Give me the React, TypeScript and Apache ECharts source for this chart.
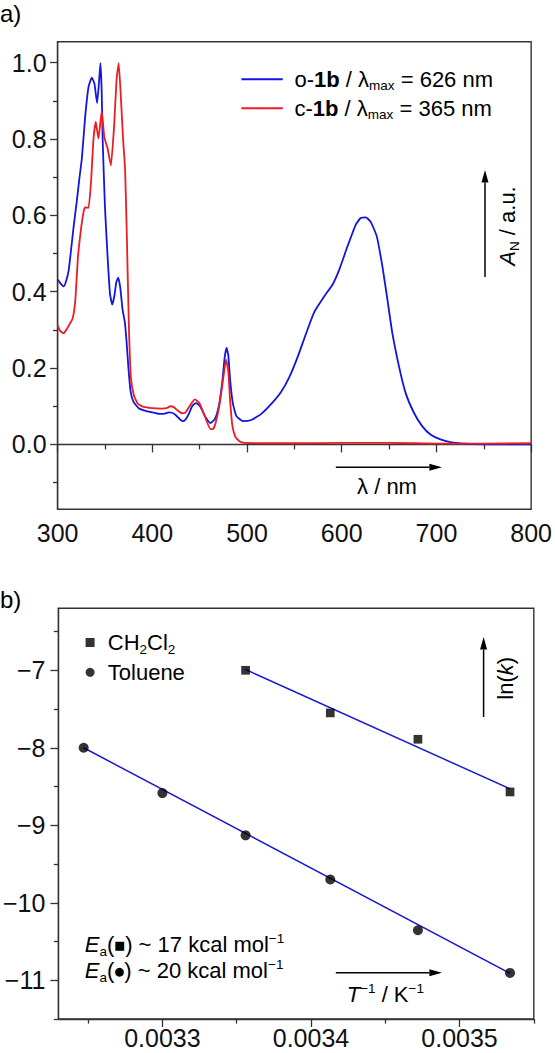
import React, { useEffect, useRef } from "react";
import * as echarts from "echarts";

const FONT = "'Liberation Sans', Arial, Helvetica, 'DejaVu Sans', sans-serif";
const BLUE = "#1414e0";
const RED = "#ec1c24";
const FIT_BLUE = "#1a1ad0";
const AXIS = "#333333";

// ---------- Panel a: normalised absorption spectra ----------
const spectrumOpen: [number, number][] = [
  [300, 0.432], [303, 0.422], [306.5, 0.414], [309, 0.428], [311.7, 0.456], [314, 0.505],
  [316.9, 0.57], [320.4, 0.64], [322.9, 0.695], [325.6, 0.749], [329.1, 0.858], [332.6, 0.936],
  [336.1, 0.961], [338.9, 0.945], [341.7, 0.894], [343.6, 0.945], [345.2, 0.999], [346.5, 0.93],
  [347.6, 0.797], [350, 0.622], [352.8, 0.491], [355.3, 0.395], [357.7, 0.366], [360, 0.39],
  [362, 0.425], [364, 0.437], [366.2, 0.41], [368.5, 0.355], [371, 0.32], [372.8, 0.27],
  [374.8, 0.2], [377, 0.14], [380, 0.112], [386, 0.094], [393, 0.088], [400, 0.084],
  [407, 0.08], [412, 0.08], [417.5, 0.084], [421, 0.083], [424.6, 0.077], [429, 0.066],
  [432, 0.061], [435, 0.065], [438.6, 0.08], [442, 0.1], [445.6, 0.108], [448, 0.106],
  [450.9, 0.098], [456.1, 0.072], [461.4, 0.056], [466, 0.066], [470.2, 0.1], [473.7, 0.16],
  [476.5, 0.23], [478.5, 0.253], [480.3, 0.232], [482.3, 0.165], [485, 0.108], [488.8, 0.074],
  [495.8, 0.061], [504.6, 0.064], [515.1, 0.08], [525.6, 0.106], [536.1, 0.138], [544.8, 0.177],
  [553.6, 0.23], [562.3, 0.29], [571.1, 0.347], [581.6, 0.388], [590.4, 0.419], [597.4, 0.458],
  [606.1, 0.519], [614.9, 0.576], [620, 0.593], [625.4, 0.595], [630.6, 0.583], [637, 0.545],
  [642.9, 0.467], [648.2, 0.38], [653.4, 0.292], [660.4, 0.205], [667.4, 0.135], [676.2, 0.083],
  [684.9, 0.048], [693.7, 0.026], [704.2, 0.013], [714.7, 0.006], [730, 0.002], [750, 0.0],
  [800, 0.0],
];

const spectrumClosed: [number, number][] = [
  [300, 0.312], [302.5, 0.298], [306.5, 0.291], [309, 0.3], [311.5, 0.31], [315.9, 0.33],
  [318.7, 0.378], [321.5, 0.491], [325, 0.57], [327.5, 0.61], [329, 0.621], [332.6, 0.62],
  [335.4, 0.692], [337.8, 0.797], [340.3, 0.845], [343.1, 0.801], [346.6, 0.873], [349.3, 0.805],
  [352.8, 0.775], [356.3, 0.731], [359.8, 0.84], [362.2, 0.954], [364.5, 0.999], [366.8, 0.91],
  [369.2, 0.797], [371.3, 0.718], [373.2, 0.535], [375.2, 0.317], [377.3, 0.177], [380.5, 0.129],
  [384.5, 0.107], [390, 0.099], [400, 0.095], [410, 0.094], [415, 0.095], [419.3, 0.1],
  [423, 0.097], [426.3, 0.09], [431, 0.082], [434, 0.082], [439.3, 0.1], [444.9, 0.118],
  [449.8, 0.108], [455.4, 0.074], [461.4, 0.04], [464, 0.04], [466.7, 0.055], [470.9, 0.103],
  [474.7, 0.17], [477.9, 0.222], [480.3, 0.19], [482, 0.12], [484.5, 0.05], [487.7, 0.02],
  [492, 0.008], [497.5, 0.004], [550, 0.003], [600, 0.004], [650, 0.004], [700, 0.002],
  [750, 0.002], [800, 0.003],
];

const absTicks = [0, 0.2, 0.4, 0.6, 0.8, 1.0];
const absMinorTicks = [-0.1, 0.1, 0.3, 0.5, 0.7, 0.9];

// ---------- Panel b: Arrhenius plot ----------
const invTempCH2Cl2 = [0.003356, 0.003413, 0.003472, 0.003534];
const lnkCH2Cl2 = [-7.0, -7.55, -7.89, -8.57];
const invTempToluene = [0.003247, 0.0033, 0.003356, 0.003413, 0.003472, 0.003534];
const lnkToluene = [-8.0, -8.585, -9.13, -9.7, -10.355, -10.905];
const fitCH2Cl2X = [0.003356, 0.003534];
const fitCH2Cl2Y = [-6.99, -8.53];
const fitTolueneX = [0.003247, 0.003534];
const fitTolueneY = [-8.0, -10.91];
const invTempTicks = [0.0033, 0.0034, 0.0035];
const invTempMinorTicks = [0.00325, 0.00335, 0.00345, 0.00355];
const lnkTicks = [-11, -10, -9, -8, -7];
const lnkMinorTicks = [-11.5, -10.5, -9.5, -8.5, -7.5, -6.5];

const zip = (xs: number[], ys: number[]) => xs.map((x, i) => [x, ys[i]]);

const FS = 22;
const LH = 27;
const rich: any = {
  n: { fontSize: FS, lineHeight: LH, color: "#000", fontFamily: FONT },
  i: { fontSize: FS, lineHeight: LH, color: "#000", fontFamily: FONT, fontStyle: "italic" },
  b: { fontSize: FS, lineHeight: LH, color: "#000", fontFamily: FONT, fontWeight: "bold" },
  sub: { fontSize: 13.5, lineHeight: 13.5, color: "#000", fontFamily: FONT, verticalAlign: "bottom" },
  sup: { fontSize: 13.5, lineHeight: 16.5, color: "#000", fontFamily: FONT, verticalAlign: "top" },
  sym: { fontSize: 11.5, lineHeight: LH, color: "#000", fontFamily: "'DejaVu Sans', sans-serif" },
  g: { width: 6.7, lineHeight: LH },
  h: { width: 8.2, lineHeight: LH },
};

const legendLabels: Record<string, string> = {
  "o-1b": "{g| }{n|o-}{b|1b}{n| / λ}{sub|max}{n| = 626 nm}",
  "c-1b": "{g| }{n|c-}{b|1b}{n| / λ}{sub|max}{n| = 365 nm}",
  CH2Cl2: "{h| }{n|CH}{sub|2}{n|Cl}{sub|2}",
  Toluene: "{h| }{n|Toluene}",
};

const tickLine = { color: AXIS, width: 1.3 };

function arrow(x1: number, y1: number, x2: number, y2: number): any[] {
  const len = Math.hypot(x2 - x1, y2 - y1);
  const ux = (x2 - x1) / len;
  const uy = (y2 - y1) / len;
  const hl = 12.5;
  const hw = 3.5;
  const bx = x2 - ux * hl;
  const by = y2 - uy * hl;
  return [
    { type: "line", shape: { x1, y1, x2: bx, y2: by }, style: { stroke: "#000", lineWidth: 1.5 } },
    {
      type: "polygon",
      shape: { points: [[x2, y2], [bx - uy * hw, by + ux * hw], [bx + uy * hw, by - ux * hw]] },
      style: { fill: "#000" },
    },
  ];
}

function textEl(x: number, y: number, text: string, extra: any = {}): any {
  return {
    type: "text",
    x,
    y,
    ...extra,
    style: {
      text,
      rich,
      fill: "#000",
      fontSize: FS,
      fontFamily: FONT,
      align: extra.align || "left",
      verticalAlign: "middle",
    },
  };
}

export default function App() {
  const ref = useRef<HTMLDivElement>(null);

  useEffect(() => {
    document.body.style.margin = "0";
    if (!ref.current) return;
    const chart = echarts.init(ref.current, undefined, { renderer: "svg" });

    const labelStyle = { fontSize: 25, color: "#111", fontFamily: FONT };
    const GL = 57.6;
    const GW = 476.2;

    const option: any = {
      animation: false,
      textStyle: { fontFamily: FONT },
      grid: [
        { left: GL, top: 41.7, width: GW, height: 467.6, show: true, borderColor: AXIS, borderWidth: 1.4 },
        { left: GL, top: 608.3, width: GW, height: 410.7, show: true, borderColor: AXIS, borderWidth: 1.4 },
      ],
      xAxis: [
        {
          gridIndex: 0,
          type: "value",
          position: "bottom",
          min: 300,
          max: 800,
          interval: 100,
          axisLine: { show: true, lineStyle: tickLine },
          axisTick: { show: true, length: 8, lineStyle: tickLine },
          minorTick: { show: true, splitNumber: 2, length: 5, lineStyle: tickLine },
          axisLabel: { ...labelStyle, margin: 11 },
          splitLine: { show: false },
          minorSplitLine: { show: false },
        },
        {
          gridIndex: 1,
          type: "value",
          position: "bottom",
          min: 0.00323,
          max: 0.00355,
          axisLine: { show: true, lineStyle: tickLine },
          axisTick: { show: true, length: 8, lineStyle: tickLine, customValues: invTempTicks },
          axisLabel: {
            ...labelStyle,
            margin: 6,
            customValues: invTempTicks,
            formatter: (v: number) => v.toFixed(4),
          },
          splitLine: { show: false },
        },
        {
          gridIndex: 1,
          type: "value",
          position: "bottom",
          offset: 0,
          min: 0.00323,
          max: 0.00355,
          axisLine: { show: false },
          axisTick: { show: true, length: 4.6, lineStyle: tickLine, customValues: invTempMinorTicks },
          axisLabel: { show: false },
          splitLine: { show: false },
        },
      ],
      yAxis: [
        {
          gridIndex: 0,
          type: "value",
          position: "left",
          min: -0.17,
          max: 1.055,
          axisLine: { show: true, lineStyle: tickLine },
          axisTick: { show: true, length: 7.5, lineStyle: tickLine, customValues: absTicks },
          axisLabel: {
            ...labelStyle,
            margin: 11,
            customValues: absTicks,
            formatter: (v: number) => v.toFixed(1),
          },
          splitLine: { show: false },
        },
        {
          gridIndex: 0,
          type: "value",
          position: "left",
          offset: 0,
          min: -0.17,
          max: 1.055,
          axisLine: { show: false },
          axisTick: { show: true, length: 4.6, lineStyle: tickLine, customValues: absMinorTicks },
          axisLabel: { show: false },
          splitLine: { show: false },
        },
        {
          gridIndex: 1,
          type: "value",
          position: "left",
          min: -11.5,
          max: -6.2,
          axisLine: { show: true, lineStyle: tickLine },
          axisTick: { show: true, length: 8, lineStyle: tickLine, customValues: lnkTicks },
          axisLabel: {
            ...labelStyle,
            margin: 13,
            customValues: lnkTicks,
            formatter: (v: number) => String(v).replace("-", "\u2212"),
          },
          splitLine: { show: false },
        },
        {
          gridIndex: 1,
          type: "value",
          position: "left",
          offset: 0,
          min: -11.5,
          max: -6.2,
          axisLine: { show: false },
          axisTick: { show: true, length: 4.6, lineStyle: tickLine, customValues: lnkMinorTicks },
          axisLabel: { show: false },
          splitLine: { show: false },
        },
      ],
      legend: [
        {
          data: ["o-1b", "c-1b"],
          orient: "vertical",
          left: 241.4,
          top: 68.2,
          padding: 0,
          icon: "rect",
          itemWidth: 41.4,
          itemHeight: 2,
          itemGap: 4.6,
          formatter: (name: string) => legendLabels[name],
          textStyle: { fontSize: FS, color: "#000", fontFamily: FONT, rich },
        },
        {
          data: [
            { name: "CH2Cl2", icon: "rect" },
            { name: "Toluene", icon: "circle" },
          ],
          orient: "vertical",
          left: 85.6,
          top: 631.5,
          padding: 0,
          itemWidth: 9,
          itemHeight: 9,
          itemGap: 5.3,
          formatter: (name: string) => legendLabels[name],
          textStyle: { fontSize: FS, color: "#000", fontFamily: FONT, rich },
        },
      ],
      series: [
        {
          name: "o-1b",
          type: "line",
          xAxisIndex: 0,
          yAxisIndex: 0,
          data: spectrumOpen,
          symbol: "none",
          showSymbol: false,
          smooth: 0.15,
          lineStyle: { color: BLUE, width: 1.8 },
          itemStyle: { color: BLUE },
        },
        {
          name: "c-1b",
          type: "line",
          xAxisIndex: 0,
          yAxisIndex: 0,
          data: spectrumClosed,
          symbol: "none",
          showSymbol: false,
          smooth: 0.15,
          lineStyle: { color: RED, width: 1.8 },
          itemStyle: { color: RED },
        },
        {
          name: "fit CH2Cl2",
          type: "line",
          xAxisIndex: 1,
          yAxisIndex: 2,
          data: zip(fitCH2Cl2X, fitCH2Cl2Y),
          symbol: "none",
          lineStyle: { color: FIT_BLUE, width: 1.5 },
          z: 2,
        },
        {
          name: "fit Toluene",
          type: "line",
          xAxisIndex: 1,
          yAxisIndex: 2,
          data: zip(fitTolueneX, fitTolueneY),
          symbol: "none",
          lineStyle: { color: FIT_BLUE, width: 1.5 },
          z: 2,
        },
        {
          name: "CH2Cl2",
          type: "scatter",
          xAxisIndex: 1,
          yAxisIndex: 2,
          data: zip(invTempCH2Cl2, lnkCH2Cl2),
          symbol: "rect",
          symbolSize: 8.7,
          itemStyle: { color: "#000" },
          z: 5,
        },
        {
          name: "Toluene",
          type: "scatter",
          xAxisIndex: 1,
          yAxisIndex: 2,
          data: zip(invTempToluene, lnkToluene),
          symbol: "circle",
          symbolSize: 10,
          itemStyle: { color: "#000" },
          z: 5,
        },
      ],
      graphic: {
        elements: [
          { type: "text", x: 0, y: 13.5, style: { text: "a)", fontSize: 24, fontFamily: FONT, fill: "#000", align: "left", verticalAlign: "middle" } },
          { type: "text", x: 0, y: 599, style: { text: "b)", fontSize: 24, fontFamily: FONT, fill: "#000", align: "left", verticalAlign: "middle" } },
          ...arrow(485, 277, 485, 170),
          textEl(507.5, 226, "{i|A}{sub|N}{n| / a.u.}", { rotation: Math.PI / 2, align: "center" }),
          ...arrow(335.8, 467.3, 441.9, 467.3),
          textEl(387, 486.7, "{n|λ / nm}", { align: "center" }),
          ...arrow(483.6, 717, 483.6, 637),
          textEl(505.4, 678.3, "{n|ln(}{i|k}{n|)}", { rotation: Math.PI / 2, align: "center" }),
          ...arrow(335.8, 972.7, 441.9, 972.7),
          textEl(385.3, 994.5, "{i|T}{sup|\u22121}{n| / K}{sup|\u22121}", { align: "center" }),
          textEl(84.8, 944.5, "{i|E}{sub|a}{n|(}{sym|■}{n|) ~ 17 kcal mol}{sup|\u22121}"),
          textEl(84.8, 970.7, "{i|E}{sub|a}{n|(}{sym|●}{n|) ~ 20 kcal mol}{sup|\u22121}"),
        ],
      },
    };

    chart.setOption(option);
    return () => {
      chart.dispose();
    };
  }, []);

  return <div ref={ref} style={{ width: 555, height: 1053 }} />;
}
